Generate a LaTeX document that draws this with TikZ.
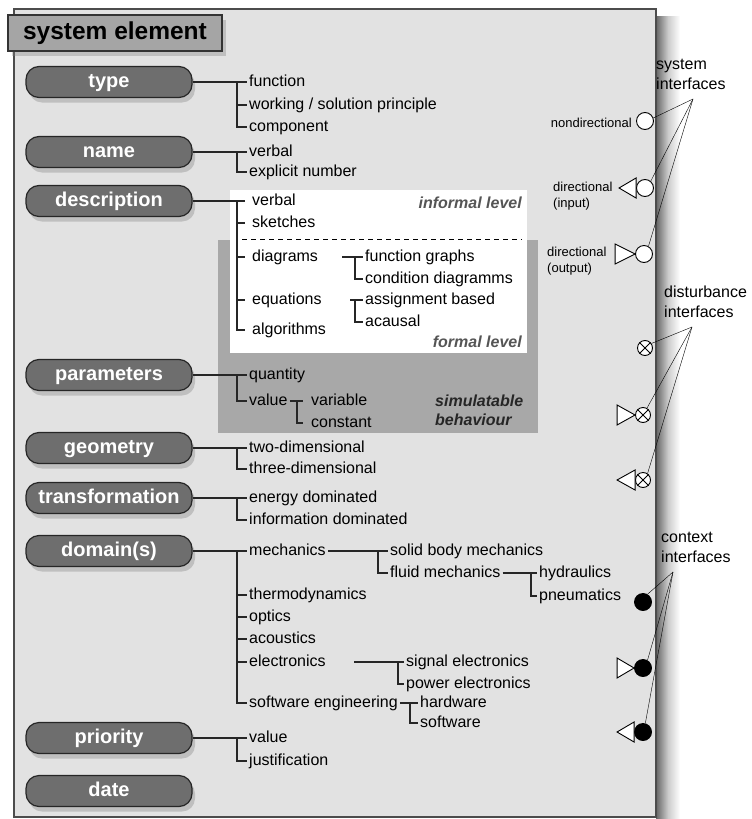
\documentclass[tikz,border=0pt]{standalone}
\usepackage{fontspec}
\setmainfont{Liberation Sans}
\usetikzlibrary{shadows}
\definecolor{boxGray}{RGB}{226,226,226}
\definecolor{pillGray}{RGB}{110,110,110}
\definecolor{titleGray}{RGB}{165,165,165}
\definecolor{simGray}{RGB}{168,168,168}
\definecolor{levelGray}{RGB}{85,85,85}

\begin{document}
\begin{tikzpicture}[x=1pt, y=-1pt,
    pill/.style={draw=black!85, line width=1.2pt, fill=pillGray, rounded corners=13pt,
      minimum width=166pt, minimum height=31pt, text=white, text height=14pt, text depth=4pt,
      font=\fontsize{20}{23}\selectfont\bfseries,
      drop shadow={shadow xshift=3pt, shadow yshift=-5pt, opacity=.35}},
    titlebox/.style={draw=black!80, line width=1.2pt, fill=titleGray,
      minimum width=214pt, minimum height=36pt, font=\fontsize{24.5}{28}\selectfont\bfseries,
      drop shadow={shadow xshift=4pt, shadow yshift=-5pt, opacity=.35}},
    leaf/.style={anchor=west, inner sep=2pt, text height=11.5pt, text depth=3.2pt,
      font=\fontsize{16}{19}\selectfont},
    link/.style={draw=black!85, line width=1.1pt},
    port/.style={circle, draw, line width=.9pt, fill=white, minimum size=17pt, inner sep=0pt},
    tri/.style={draw, line width=.9pt, fill=white},
    portlabel/.style={font=\fontsize{13}{16}\selectfont, align=left, inner sep=0pt},
    grouplabel/.style={font=\fontsize{16}{20}\selectfont, align=left, inner sep=0pt},
    lvltext/.style={font=\fontsize{16}{19}\selectfont\bfseries\itshape, inner sep=0pt}]
  \useasboundingbox (0,0) rectangle (752,819);

  % frame of the system element
  \shade[left color=black!60, right color=white, middle color=black!20] (656,16) rectangle (680,819);
  \draw[draw=black!70, line width=1.6pt, fill=boxGray] (14,9) rectangle (656,817);
  \node[titlebox] (title) at (115,33) {system element};

  % description levels
  \fill[simGray] (218,240) rectangle (538,433);
  \fill[white] (230,190) rectangle (527,353);
  \draw[dashed, line width=1pt, dash pattern=on 5pt off 4pt] (242,239) -- (522,239);
  \node[lvltext, text=levelGray, anchor=east] (inform) at (522,203) {informal level};
  \node[lvltext, text=levelGray, anchor=east] (formal) at (522,342) {formal level};
  \node[lvltext, text=black!85, align=left, anchor=west] (simul) at (435,410) {simulatable\\behaviour};

  % attributes
  \node[pill] (type) at (109,82) {type};
  \node[pill] (name) at (109,152) {name};
  \node[pill] (descr) at (109,201) {description};
  \node[pill] (param) at (109,375) {parameters};
  \node[pill] (geom) at (109,448) {geometry};
  \node[pill] (trafo) at (109,498) {transformation};
  \node[pill] (domain) at (109,551) {domain(s)};
  \node[pill] (prio) at (109,738) {priority};
  \node[pill] (date) at (109,791) {date};

  % type
  \node[leaf] (fun) at (247,82) {function};
  \node[leaf] (wsp) at (247,105) {working / solution principle};
  \node[leaf] (comp) at (247,127) {component};
  \draw[link] (type.east) -- (fun.west);
  \draw[link] ([xshift=-10pt]fun.west) |- (comp.west);
  \draw[link] ([xshift=-10pt]wsp.west) -- (wsp.west);

  % name
  \node[leaf] (nverb) at (247,152) {verbal};
  \node[leaf] (nexp) at (247,172) {explicit number};
  \draw[link] (name.east) -- (nverb.west);
  \draw[link] ([xshift=-10pt]nverb.west) |- (nexp.west);

  % description
  \node[leaf] (dverb) at (250,201) {verbal};
  \node[leaf] (dsk) at (250,223) {sketches};
  \node[leaf] (ddia) at (250,257) {diagrams};
  \node[leaf] (dequ) at (250,300) {equations};
  \node[leaf] (dalg) at (250,330) {algorithms};
  \draw[link] (descr.east) -- ([xshift=-5pt]dverb.west);
  \draw[link] ([xshift=-13pt]dverb.west) |- ([xshift=-5pt]dalg.west);
  \foreach \n in {dsk,ddia,dequ}
    \draw[link] ([xshift=-13pt]\n.west) -- ([xshift=-5pt]\n.west);
  \node[leaf] (fg) at (363,257) {function graphs};
  \node[leaf] (cd) at (363,279) {condition diagramms};
  \draw[link] ([xshift=-21pt]fg.west) -- (fg.west);
  \draw[link] ([xshift=-8pt]fg.west) |- (cd.west);
  \node[leaf] (ab) at (363,300) {assignment based};
  \node[leaf] (ac) at (363,322) {acausal};
  \draw[link] ([xshift=-13pt]ab.west) -- (ab.west);
  \draw[link] ([xshift=-8pt]ab.west) |- (ac.west);

  % parameters
  \node[leaf] (quant) at (247,375) {quantity};
  \node[leaf] (pval) at (247,401) {value};
  \draw[link] (param.east) -- (quant.west);
  \draw[link] ([xshift=-10pt]quant.west) |- (pval.west);
  \node[leaf] (var) at (309,401) {variable};
  \node[leaf] (const) at (309,423) {constant};
  \draw[link] (pval.east) -- ([xshift=-6pt]var.west);
  \draw[link] ([xshift=-12pt]var.west) |- ([xshift=-6pt]const.west);

  % geometry
  \node[leaf] (twod) at (247,448) {two-dimensional};
  \node[leaf] (threed) at (247,469) {three-dimensional};
  \draw[link] (geom.east) -- (twod.west);
  \draw[link] ([xshift=-10pt]twod.west) |- (threed.west);

  % transformation
  \node[leaf] (energy) at (247,498) {energy dominated};
  \node[leaf] (info) at (247,520) {information dominated};
  \draw[link] (trafo.east) -- (energy.west);
  \draw[link] ([xshift=-10pt]energy.west) |- (info.west);

  % domain(s)
  \node[leaf] (mech) at (247,551) {mechanics};
  \node[leaf] (thermo) at (247,595) {thermodynamics};
  \node[leaf] (optics) at (247,617) {optics};
  \node[leaf] (acou) at (247,639) {acoustics};
  \node[leaf] (elec) at (247,662) {electronics};
  \node[leaf] (sweng) at (247,703) {software engineering};
  \draw[link] (domain.east) -- (mech.west);
  \draw[link] ([xshift=-10pt]mech.west) |- (sweng.west);
  \foreach \n in {thermo,optics,acou,elec}
    \draw[link] ([xshift=-10pt]\n.west) -- (\n.west);
  \node[leaf] (solid) at (388,551) {solid body mechanics};
  \node[leaf] (fluid) at (388,573) {fluid mechanics};
  \draw[link] (mech.east) -- (solid.west);
  \draw[link] ([xshift=-10pt]solid.west) |- (fluid.west);
  \node[leaf] (hyd) at (537,573) {hydraulics};
  \node[leaf] (pneu) at (537,596) {pneumatics};
  \draw[link] (fluid.east) -- (hyd.west);
  \draw[link] ([xshift=-6pt]hyd.west) |- (pneu.west);
  \node[leaf] (sig) at (404,662) {signal electronics};
  \node[leaf] (pow) at (404,684) {power electronics};
  \draw[link] ([xshift=-50pt]sig.west) -- (sig.west);
  \draw[link] ([xshift=-6pt]sig.west) |- (pow.west);
  \node[leaf] (hw) at (418,703) {hardware};
  \node[leaf] (sw) at (418,723) {software};
  \draw[link] (sweng.east) -- (hw.west);
  \draw[link] ([xshift=-8pt]hw.west) |- (sw.west);

  % priority
  \node[leaf] (prval) at (247,738) {value};
  \node[leaf] (just) at (247,761) {justification};
  \draw[link] (prio.east) -- (prval.west);
  \draw[link] ([xshift=-10pt]prval.west) |- (just.west);

  % system interfaces
  \node[port] (nd) at (645,121) {};
  \node[port] (sin) at (645,188) {};
  \node[port] (sout) at (644,254) {};
  \draw[tri] (sin.west) ++(0,-10) -- ++(0,20) -- ++(-17,-10) -- cycle;
  \draw[tri] (sout.west) -- ++(-20,-10) -- ++(0,20) -- cycle;
  \node[portlabel, anchor=east] (ndl) at (632,123) {nondirectional};
  \node[portlabel, anchor=north west] (inl) at (553,182) {directional\\(input)};
  \node[portlabel, anchor=north west] (outl) at (547,247) {directional\\(output)};
  \node[grouplabel, anchor=north west] (sysl) at (656,59) {system\\interfaces};
  \coordinate (sysin) at (693,99);
  \draw (sysin) -- (nd.20);
  \draw (sysin) -- (sin.50);
  \draw (sysin) -- (sout.60);

  % disturbance interfaces
  \node[port, minimum size=15pt] (d1) at (645,348) {};
  \node[port, minimum size=15pt] (d2) at (643,415) {};
  \node[port, minimum size=15pt] (d3) at (643,480) {};
  \draw[tri] (d2.west) -- ++(-18,-10) -- ++(0,20) -- cycle;
  \draw[tri] (d3.west) ++(0,-10) -- ++(0,20) -- ++(-18,-10) -- cycle;
  \foreach \d in {d1,d2,d3}
    \draw[line width=.9pt] (\d.45) -- (\d.225) (\d.135) -- (\d.315);
  \node[grouplabel, anchor=north west] (disl) at (664,286) {disturbance\\interfaces};
  \coordinate (disin) at (692,327);
  \draw (disin) -- (d1.35);
  \draw (disin) -- (d2.60);
  \draw (disin) -- (d3.55);

  % context interfaces
  \node[port, fill=black] (c1) at (643,602) {};
  \node[port, fill=black] (c2) at (643,668) {};
  \node[port, fill=black] (c3) at (643,732) {};
  \draw[tri] (c2.west) -- ++(-17,-10) -- ++(0,20) -- cycle;
  \draw[tri] (c3.west) ++(0,-10) -- ++(0,20) -- ++(-17,-10) -- cycle;
  \node[grouplabel, anchor=north west] (ctxl) at (661,532) {context\\interfaces};
  \coordinate (ctxin) at (673,572);
  \draw (ctxin) -- (c1.60);
  \draw (ctxin) -- (c2.60);
  \draw (ctxin) -- (c3.75);
\end{tikzpicture}
\end{document}
